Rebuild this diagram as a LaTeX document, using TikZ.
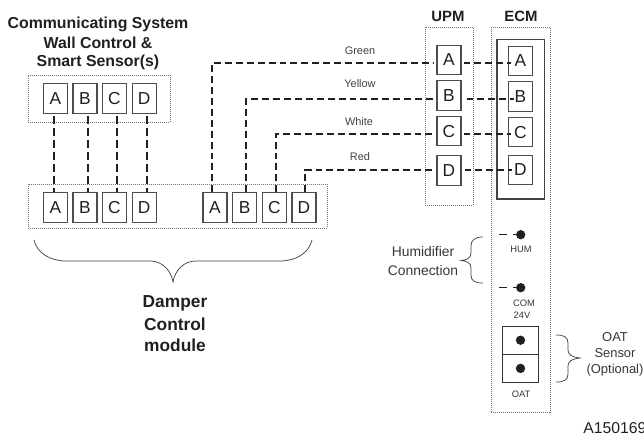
\documentclass[tikz,border=0pt]{standalone}
\usepackage{fontspec}
\setmainfont{Liberation Sans}
\usetikzlibrary{calc}
\definecolor{ink}{HTML}{231F20}
\definecolor{dotgray}{HTML}{707070}
\newcommand{\fpx}[1]{\fontsize{#1}{#1}\selectfont}
\tikzset{
  term/.style={draw=ink!80,line width=0.8pt,fill=white,minimum width=18pt,minimum height=22pt,inner sep=0pt,text=ink,font=\fpx{13}},
  group/.style={draw=dotgray,line width=0.5pt,densely dotted},
  wire/.style={draw=ink,line width=1.1pt,dash pattern=on 5.2pt off 3pt},
  vwire/.style={draw=ink,line width=1.1pt,dash pattern=on 6pt off 3pt},
  title/.style={font=\fpx{11.9}\bfseries,text=ink,align=center,inner sep=0pt},
  coltitle/.style={font=\fpx{11.2}\bfseries,text=ink,align=center,inner sep=0pt},
  bigtitle/.style={font=\fpx{13}\bfseries,text=ink,align=center,inner sep=0pt},
  color label/.style={font=\fpx{8.2},text=ink!85,inner sep=0pt},
  note/.style={font=\fpx{10.4},text=ink!90,align=center,inner sep=0pt},
  oatnote/.style={font=\fpx{9.7},text=ink!90,align=center,inner sep=0pt},
  tiny/.style={font=\fpx{7},text=ink!90,inner sep=0pt},
  pin/.style={circle,fill=ink,minimum size=7pt,inner sep=0pt},
  brace/.style={draw=ink!85,line width=0.55pt},
}
\begin{document}
\begin{tikzpicture}[x=0.75pt,y=-0.75pt]
\useasboundingbox (0,0) rectangle (644,438);
% dotted groups
\node[group,minimum width=106.5pt,minimum height=35.3pt,inner sep=0pt] (wallgroup) at (99,98.5) {};
\node[group,minimum width=224.3pt,minimum height=33pt,inner sep=0pt] (dampgroup) at (177.5,206) {};
\node[group,minimum width=36pt,minimum height=133.5pt,inner sep=0pt] (upmgroup) at (449,116) {};
\node[group,minimum width=44pt,minimum height=288.8pt,inner sep=0pt] (ecmgroup) at (520.7,219.5) {};
\node[draw=ink!85,line width=0.9pt,minimum width=35.6pt,minimum height=119.6pt,inner sep=0pt] (ecmframe) at (520.7,119.3) {};
% titles
\node[title] (t1) at (98,24) {Communicating System};
\node[title] (t2) at (98,43) {Wall Control \&};
\node[title] (t3) at (98,62) {Smart Sensor(s)};
\node[coltitle] (upmt) at (448,16) {UPM};
\node[coltitle] (ecmt) at (521,16) {ECM};
\node[bigtitle] (d1) at (175,303) {Damper};
\node[bigtitle] (d2) at (175,324) {Control};
\node[bigtitle] (d3) at (175,345) {module};
% terminals
\foreach \n/\l/\x in {wA/A/55.3,wB/B/85,wC/C/114.5,wD/D/144.2}
  \node[term] (\n) at (\x,98.5) {\l};
\foreach \n/\l/\x in {mA/A/55.3,mB/B/85,mC/C/114.5,mD/D/144.2,nA/A/215,nB/B/244.6,nC/C/274.3,nD/D/304}
  \node[term] (\n) at (\x,207.5) {\l};
\foreach \n/\l/\y in {uA/A/60,uB/B/95.5,uC/C/131.3,uD/D/170.5}
  \node[term] (\n) at (449,\y) {\l};
\foreach \n/\l/\y in {eA/A/61,eB/B/96.5,eC/C/132.3,eD/D/170}
  \node[term,fill=none] (\n) at (520.5,\y) {\l};
% vertical wires
\draw[vwire] ([shift={(-1.3,2)}]wA.south) -- ([shift={(-1.3,0)}]mA.north);
\draw[vwire] ([shift={(3,2)}]wB.south) -- ([shift={(3,0)}]mB.north);
\draw[vwire] ([shift={(2.5,2)}]wC.south) -- ([shift={(2.5,0)}]mC.north);
\draw[vwire] ([shift={(2.8,2)}]wD.south) -- ([shift={(2.8,0)}]mD.north);
% routed wires
\draw[wire] ([shift={(-3,0)}]nA.north) |- ([shift={(-2,3)}]uA.west);
\draw[wire] ([shift={(1.4,0)}]nB.north) |- ([shift={(-2,3.5)}]uB.west);
\draw[wire] ([shift={(1.7,0)}]nC.north) |- ([shift={(-2,2.7)}]uC.west);
\draw[wire] ([shift={(1,0)}]nD.north) |- ([shift={(-2,-.5)}]uD.west);
% UPM to ECM
\draw[wire] ([shift={(2,3)}]uA.east) -- ([shift={(3.5,2)}]eA.west);
\draw[wire] ([shift={(5,3.5)}]uB.east) -- ([shift={(6.5,2.5)}]eB.west);
\draw[wire] ([shift={(2,2.7)}]uC.east) -- ([shift={(3.5,1.7)}]eC.west);
\draw[wire] ([shift={(3,-.5)}]uD.east) -- ([shift={(4.5,0)}]eD.west);
% colour labels
\node[color label] (lg) at (360,51) {Green};
\node[color label] (ly) at (360,84) {Yellow};
\node[color label] (lw) at (359,122) {White};
\node[color label] (lr) at (360,157) {Red};
% pins
\node[pin] (hum) at (520.7,234.7) {};
\node[pin] (com) at (520.7,287.7) {};
\coordinate (humend) at (499,234.7);
\coordinate (comend) at (499,287.7);
\draw[draw=ink,line width=1.1pt,dash pattern=on 6pt off 4.5pt] (humend) -- (hum.center);
\draw[draw=ink,line width=1.1pt,dash pattern=on 6pt off 4.5pt] (comend) -- (com.center);
\node[tiny] (humt) at (521,249.5) {HUM};
\node[tiny] (comt) at (524,303.5) {COM};
\node[tiny] (v24) at (522,315.5) {24V};
% OAT
\node[draw=ink!90,line width=0.8pt,minimum width=26.6pt,minimum height=21.2pt,inner sep=0pt] (oat1) at (520.5,340.2) {};
\node[draw=ink!90,line width=0.8pt,minimum width=26.6pt,minimum height=21.2pt,inner sep=0pt] (oat2) at (520.5,368.4) {};
\node[pin] (p1) at (oat1.center) {};
\node[pin] (p2) at (oat2.center) {};
\node[tiny] (oatt) at (521,394.5) {OAT};
% notes
\node[note] (hc) at (423,261) {Humidifier\\[4.5pt]Connection};
\node[oatnote] (os) at (615,354.5) {OAT\\[2.5pt]Sensor\\[2.5pt](Optional)};
\node[font=\fpx{11.8},text=ink,anchor=west,inner sep=0pt] (code) at (583,428) {A150169};
% braces
\draw[brace] (34,240) .. controls (37,253) and (50,261) .. (66,261) -- (150,261) .. controls (162,261) and (171,270) .. (173,282) .. controls (175,270) and (184,261) .. (196,261) -- (280,261) .. controls (296,261) and (309,253) .. (312,240);
\draw[brace] (483,237) .. controls (475,237) and (471,240) .. (471,246) -- (471,253) .. controls (471,258) and (467,260) .. (461,260.5) .. controls (467,261) and (471,263) .. (471,268) -- (471,275) .. controls (471,281) and (475,283) .. (483,283);
\draw[brace] (556,335) .. controls (564,335) and (568,337) .. (568,343) -- (568,350) .. controls (568,355) and (572,357) .. (580,358) .. controls (572,359) and (568,361) .. (568,366) -- (568,374) .. controls (568,380) and (564,382) .. (556,382);
\end{tikzpicture}
\end{document}
